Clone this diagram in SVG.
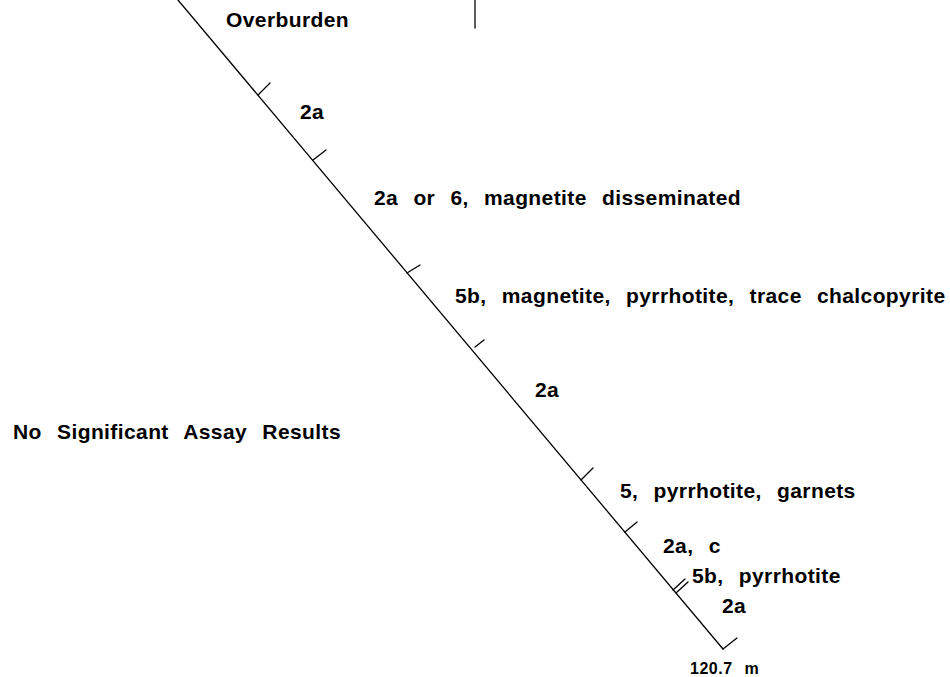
<svg xmlns="http://www.w3.org/2000/svg" width="950" height="677" viewBox="0 0 950 677">
<style>
.t{font-family:"Liberation Sans",Arial,sans-serif;font-weight:bold;font-size:21px;fill:#000;letter-spacing:0.4px;word-spacing:9px}
.s{font-size:16px;word-spacing:7px;letter-spacing:0.5px}
.ln{stroke:#000;stroke-width:1.3;fill:none;stroke-linecap:round}
</style>
<rect width="950" height="677" fill="#fff"/>
<g id="connectors">
<line class="ln" x1="178" y1="0" x2="723" y2="649"/>
<line class="ln" x1="475" y1="0" x2="475" y2="28"/>
<line class="ln" x1="258" y1="95" x2="270" y2="83"/>
<line class="ln" x1="313" y1="160" x2="326" y2="150"/>
<line class="ln" x1="407" y1="273" x2="420" y2="265"/>
<line class="ln" x1="475" y1="347" x2="484" y2="340"/>
<line class="ln" x1="581" y1="480" x2="593" y2="468"/>
<line class="ln" x1="625" y1="532" x2="637" y2="522"/>
<line class="ln" x1="673" y1="590" x2="685" y2="579"/>
<line class="ln" x1="676" y1="593" x2="688" y2="582"/>
<line class="ln" x1="723" y1="649" x2="737" y2="638"/>
</g>
<g id="overburden"><text class="t" x="226" y="27">Overburden</text></g>
<g id="unit1"><text class="t" x="300" y="119">2a</text></g>
<g id="unit2"><text class="t" x="374" y="205">2a or 6, magnetite disseminated</text></g>
<g id="unit3"><text class="t" x="455" y="303">5b, magnetite, pyrrhotite, trace chalcopyrite</text></g>
<g id="unit4"><text class="t" x="535" y="397">2a</text></g>
<g id="assay"><text class="t" x="13" y="439">No Significant Assay Results</text></g>
<g id="unit5"><text class="t" x="620" y="498">5, pyrrhotite, garnets</text></g>
<g id="unit6"><text class="t" x="663" y="553">2a, c</text></g>
<g id="unit7"><text class="t" x="692" y="583">5b, pyrrhotite</text></g>
<g id="unit8"><text class="t" x="722" y="613">2a</text></g>
<g id="depth"><text class="t s" x="690" y="674">120.7 m</text></g>
</svg>
